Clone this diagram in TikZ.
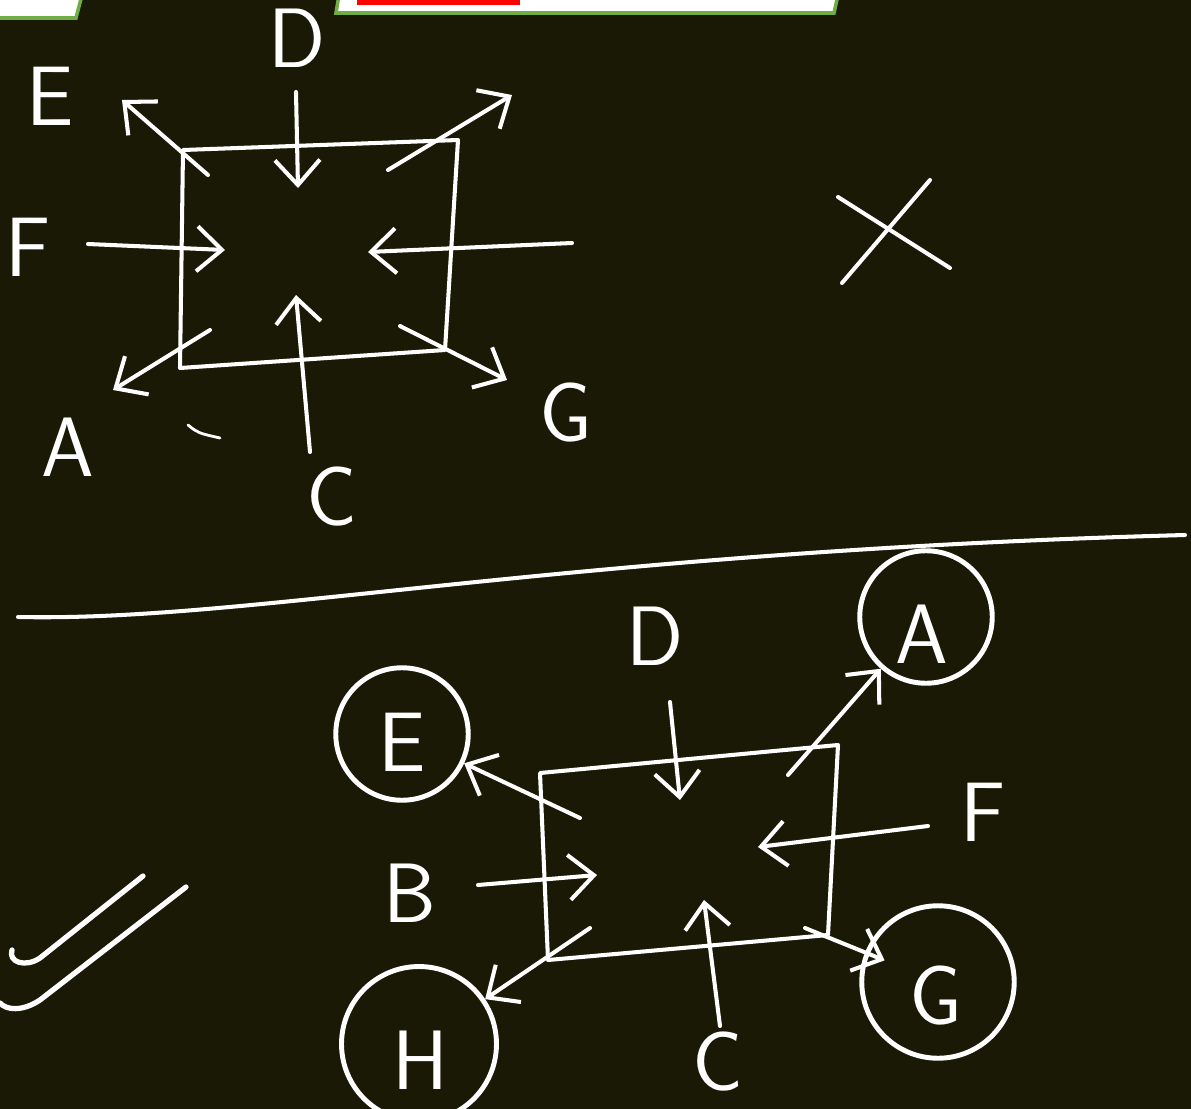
\documentclass[tikz,border=0pt]{standalone}
\usepackage{fontspec}
\usetikzlibrary{arrows.meta}
\definecolor{board}{RGB}{26,25,5}
\definecolor{barGreen}{RGB}{112,173,71}
\begin{document}
\begin{tikzpicture}[x=0.02cm,y=-0.02cm,
        chalk/.style={white, line width=2.3pt, line cap=round, line join=round},
        arr/.style ={chalk, -{Straight Barb[length=5mm,width=9mm]}},
        lbl/.style ={white, font=\sffamily\fontsize{48}{52}\selectfont, inner sep=0pt},
        ring/.style={draw=white, circle, line width=2.8pt}]
        \fill[board] (0,0) rectangle (1191,1109);
        \useasboundingbox (0,0) rectangle (1191,1109);
% Leisten oben
        \fill[white] (0,-5) -- (82,-5) -- (76,18) -- (0,18) -- cycle;
        \draw[barGreen, line width=2pt] (82,-5) -- (76,18) -- (0,18);
        \fill[white] (339,-5) -- (838,-5) -- (834,13) -- (336,13) -- cycle;
        \fill[red] (357,-5) rectangle (520,5);
        \draw[barGreen, line width=2pt] (339,-5) -- (336,13) -- (834,13) -- (838,-5);
% oberes Bild
        \foreach \l/\x/\y in {D/297/38, E/50/96, F/28/247, A/68/447, C/332/497, G/566/413}
            {\node[lbl] (t\l) at (\x,\y) {\l};}
        \foreach \n/\x/\y in {q1/183/150, q2/458/140, q3/445/350, q4/180/368,
                              dS/296/92, dE/298/188, eS/208/175, eE/122/100,
                              nS/388/170, nE/512/95, fS/88/244, fE/225/250,
                              rS/572/243, rE/368/252, cS/310/452, cE/296/295,
                              aS/210/330, aE/113/390, gS/400/326, gE/507/380}
            {\coordinate (\n) at (\x,\y);}
        \draw[chalk] (q1) -- (q2) -- (q3) -- (q4) -- cycle;
        \foreach \s/\t in {dS/dE, eS/eE, nS/nE, fS/fE, rS/rE, cS/cE, aS/aE, gS/gE}
            {\draw[arr] (\s) -- (\t);}
        \draw[chalk, line width=1.6pt] (188,425) .. controls (198,433) .. (220,438);
        \coordinate (x1) at (842,283); \coordinate (x2) at (930,180);
        \coordinate (x3) at (838,197); \coordinate (x4) at (950,268);
        \draw[chalk] (x1) -- (x2) (x3) -- (x4);
% Trennlinie
        \coordinate (l1) at (18,617); \coordinate (l2) at (1185,535);
        \draw[chalk] (l1) .. controls (250,622) and (560,552) .. (l2);
% unteres Bild
        \foreach \l/\x/\y in {D/655/636, F/983/812, B/410/893, C/718/1062,
                              A/922/634, E/402/742, G/936/996, H/420/1060}
            {\node[lbl] (b\l) at (\x,\y) {\l};}
        \node[ring, minimum size=2.65cm] (rA) at (926,617) {};
        \node[ring, minimum size=2.65cm] (rE) at (402,734) {};
        \node[ring, minimum size=3.05cm] (rG) at (938,982) {};
        \node[ring, minimum size=3.1cm]  (rH) at (419,1044) {};
        \foreach \n/\x/\y in {p1/540/773, p2/838/745, p3/828/935, p4/548/960,
                              bdS/670/702, bdE/680/800, baS/788/775, beS/580/818,
                              bfS/928/826, bfE/758/847, bbS/478/885, bbE/597/875,
                              bcS/720/1026, bcE/704/900, bhS/590/928, bgS/805/928}
            {\coordinate (\n) at (\x,\y);}
        \draw[chalk] (p1) -- (p2) -- (p3) -- (p4) -- cycle;
        \foreach \s/\t in {bdS/bdE, baS/rA, beS/rE, bfS/bfE, bbS/bbE, bcS/bcE, bhS/rH}
            {\draw[arr] (\s) -- (\t);}
        \draw[arr, shorten >=-12pt] (bgS) -- (rG);
% Haken links
        \draw[chalk, line width=3pt] (143,876) -- (40,958) .. controls (25,968) and (8,962) .. (12,950);
        \draw[chalk, line width=3pt] (186,887) -- (40,1000) .. controls (22,1012) and (6,1010) .. (0,1003);
    \end{tikzpicture}
\end{document}
